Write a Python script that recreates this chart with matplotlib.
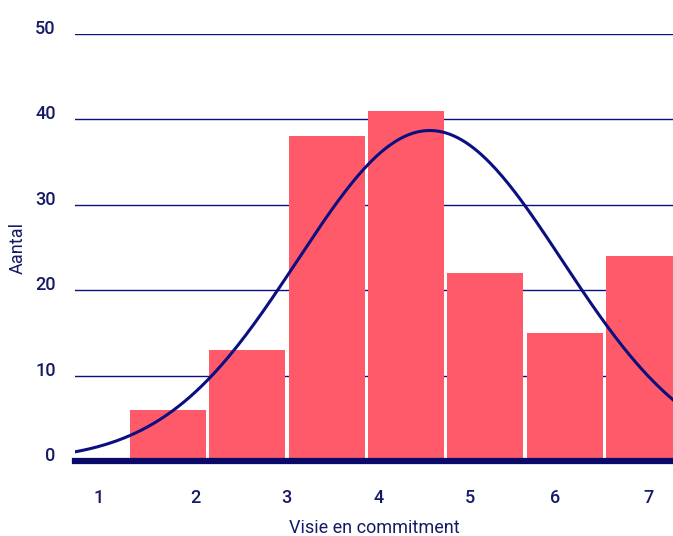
import numpy as np
import matplotlib.pyplot as plt

# histogram counts per bin
bins = [1, 2, 3, 4, 5, 6, 7]
counts = [6, 13, 38, 41, 22, 15, 24]
# tick labels sit at their own positions under the axis
tick_pos = [0.13, 1.34, 2.49, 3.66, 4.81, 5.88, 7.06]
tick_labels = ["1", "2", "3", "4", "5", "6", "7"]
# fitted normal curve parameters
curve_mu = 4.30
curve_sigma = 1.67
curve_peak = 38.7

navy = "#0c0f80"
text_col = "#161a66"
red = "#ff5a69"

plt.rcParams['font.family'] = ['Roboto', 'DejaVu Sans']

fig = plt.figure(figsize=(6.73, 5.36), dpi=100)
ax = fig.add_axes([75/673, 75/536, 598/673, 427/536])

ax.bar(bins, counts, width=0.96, color=red, zorder=2)

xs = np.linspace(-0.2, 7.4, 300)
ys = curve_peak * np.exp(-0.5 * ((xs - curve_mu) / curve_sigma) ** 2)
ax.plot(xs, ys, color=navy, lw=2.2, zorder=3)

for v in [10, 20, 30, 40, 50]:
    ax.axhline(v, color=navy, lw=1, zorder=1)
ax.axhline(0, color="#0a0a6a", lw=4.5, zorder=4, clip_on=False)

ax.set_xlim(-0.173, 7.366)
ax.set_ylim(0, 50)
for s in ax.spines.values():
    s.set_visible(False)
ax.tick_params(length=0)

ax.set_yticks([0, 10, 20, 30, 40, 50])
ax.set_yticklabels(["0", "10", "20", "30", "40", "50"], color=text_col, fontsize=13,
                   va='baseline', fontweight='medium')
ax.tick_params(axis='y', pad=14)
ax.set_xticks(tick_pos)
ax.set_xticklabels(tick_labels, color=text_col, fontsize=13, fontweight='medium')
ax.tick_params(axis='x', pad=20)

ax.set_xlabel("Visie en commitment", color=text_col, fontsize=13)
ax.xaxis.set_label_coords(0.5 * (284 + 464) / 598 - 75 / 598, -(519 - 461) / 427)
ax.set_ylabel("Aantal", color=text_col, fontsize=13)
ax.yaxis.set_label_coords(-(75 - 27) / 598, 0.5)

fig.savefig("out.png", dpi=100)
